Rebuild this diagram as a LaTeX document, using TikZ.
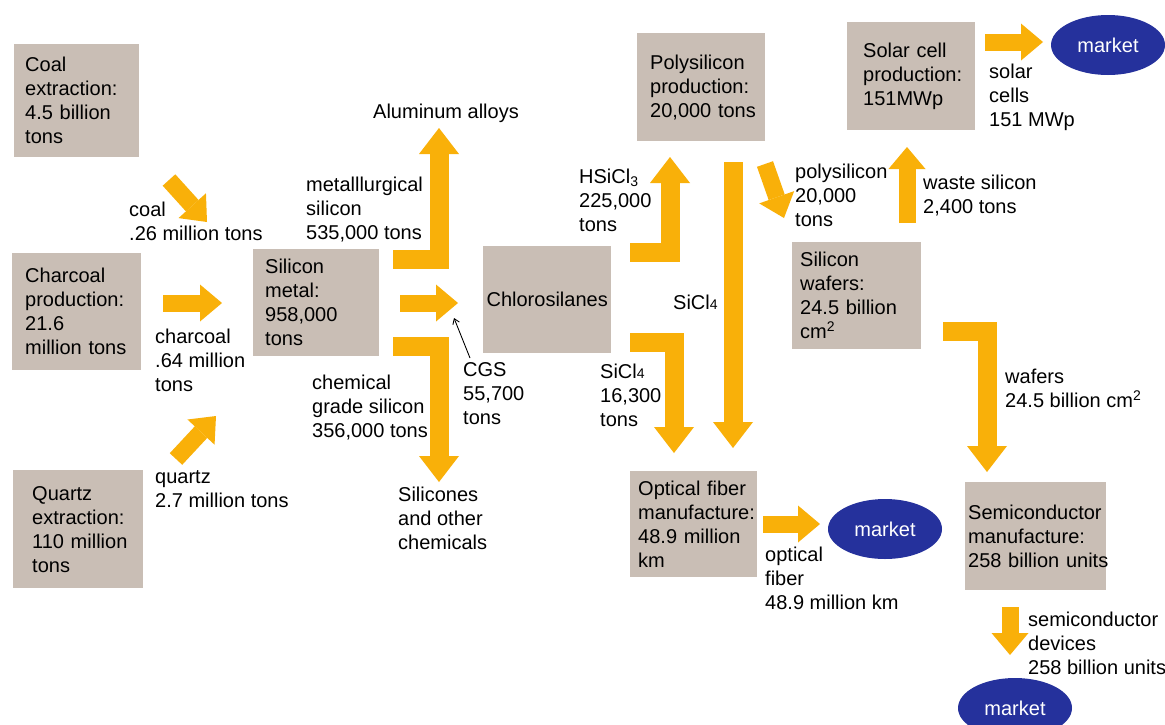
\documentclass[tikz,border=0pt]{standalone}
\usepackage{fontspec}
\setmainfont{Liberation Sans}
\usetikzlibrary{arrows.meta,shapes.geometric}
\definecolor{stagefill}{RGB}{201,190,181}
\definecolor{flowcol}{RGB}{249,176,9}
\definecolor{marketblue}{RGB}{37,49,156}
\tikzset{
  stage/.style={fill=stagefill, inner ysep=0pt, align=left, anchor=north west,
    execute at begin node={\hyphenpenalty=10000\exhyphenpenalty=10000}},
  note/.style={align=left, anchor=north west, inner sep=0pt},
  market/.style={ellipse, fill=marketblue, text=white, minimum width=114pt, minimum height=60pt, inner sep=0pt},
  flow/.style={draw=flowcol, line width=19pt, line join=miter, -{Triangle[length=26pt,width=40pt,line width=0pt]}},
  short flow/.style={flow, line width=17pt, -{Triangle[length=22pt,width=37pt,line width=0pt]}},
  pointer/.style={line width=0.9pt, -{Straight Barb[length=5pt,width=7pt]}}
}
\begin{document}
\begin{tikzpicture}[x=1pt,y=-1pt,font=\fontsize{20}{24}\selectfont]
			%%Frame
			\fill[white] (0,0) rectangle (1165,724);
			\clip (0,0) rectangle (1165,724);

			%%Stages
			\node[stage, inner xsep=11pt, text width=103pt, minimum height=113pt] (coal) at (14,44) {Coal\\extraction:\\4.5~billion\\tons};
			\node[stage, inner xsep=13pt, text width=103pt, minimum height=117pt] (charcoal) at (12,253) {Charcoal\\production:\\21.6\\million~tons};
			\node[stage, inner xsep=19pt, text width=92pt, minimum height=118pt] (quartz) at (13,470) {Quartz\\extraction:\\110~million\\tons};
			\node[stage, inner xsep=12pt, text width=102pt, minimum height=107pt] (metal) at (253,249) {Silicon\\metal:\\958,000\\tons};
			\node[stage, align=center, inner xsep=0pt, text width=128pt, minimum height=107pt] (chloro) at (483,246) {Chlorosilanes};
			\node[stage, inner xsep=13pt, text width=102pt, minimum height=108pt] (poly) at (637,33) {Polysilicon\\production:\\20,000~tons};
			\node[stage, inner xsep=16pt, text width=96pt, minimum height=108pt] (solar) at (847,22) {Solar~cell\\production:\\151MWp};
			\node[stage, inner xsep=8pt, text width=113pt, minimum height=107pt] (wafers) at (792,242) {Silicon\\wafers:\\24.5~billion\\cm\textsuperscript{2}};
			\node[stage, inner xsep=8pt, text width=111pt, minimum height=106pt] (fiber) at (630,471) {Optical~fiber\\manufacture:\\48.9~million\\km};
			\node[stage, inner xsep=3pt, text width=135pt, minimum height=108pt] (semi) at (965,482) {Semiconductor\\manufacture:\\258~billion~units};

			%%Markets
			\node[market] (solar market) at (1108,45) {market};
			\node[market] (fiber market) at (885,529) {market};
			\node[market] (device market) at (1015,708) {market};

			%%Arrow ends
			\coordinate (coal out) at (169,180);
			\coordinate (coal in) at (207,222);
			\coordinate (char out) at (163,303);
			\coordinate (char in) at (222,303);
			\coordinate (qtz out) at (176,459);
			\coordinate (qtz in) at (216,416);
			\coordinate (mg out) at (393,259);
			\coordinate (alu in) at (439,128);
			\coordinate (cgs out) at (400,303);
			\coordinate (cgs in) at (458,303);
			\coordinate (chem out) at (393,346);
			\coordinate (chem in) at (439,482);
			\coordinate (hsi out) at (630,252);
			\coordinate (hsi in) at (670,157);
			\coordinate (sicl out) at (733,162);
			\coordinate (sicl in) at (733,448);
			\coordinate (sicl2 out) at (630,342);
			\coordinate (sicl2 in) at (674,453);
			\coordinate (poly out) at (765,164);
			\coordinate (poly in) at (784,218);
			\coordinate (waste out) at (907,223);
			\coordinate (waste in) at (907,147);
			\coordinate (solar out) at (985,42);
			\coordinate (solar in) at (1043,42);
			\coordinate (wafer out) at (943,331);
			\coordinate (wafer in) at (987,472);
			\coordinate (fiber out) at (763,524);
			\coordinate (fiber in) at (820,524);
			\coordinate (semi out) at (1010,607);
			\coordinate (semi in) at (1010,655);
			\coordinate (cgs tip) at (454,318);

			%%Flows
			\draw[short flow] (coal out) -- (coal in);
			\draw[short flow] (char out) -- (char in);
			\draw[short flow] (qtz out) -- (qtz in);
			\draw[flow] (mg out) -| (alu in);
			\draw[short flow] (cgs out) -- (cgs in);
			\draw[flow] (chem out) -| (chem in);
			\draw[flow] (hsi out) -| (hsi in);
			\draw[flow] (sicl out) -- (sicl in);
			\draw[flow] (sicl2 out) -| (sicl2 in);
			\draw[short flow] (poly out) -- (poly in);
			\draw[short flow] (waste out) -- (waste in);
			\draw[short flow] (solar out) -- (solar in);
			\draw[flow] (wafer out) -| (wafer in);
			\draw[short flow] (fiber out) -- (fiber in);
			\draw[short flow] (semi out) -- (semi in);

			%%Label
			\node[note] (coal flow) at (129,202) {coal\\.26~million~tons};
			\node[note] (char flow) at (155,329) {charcoal\\.64~million\\tons};
			\node[note] (qtz flow) at (155,470) {quartz\\2.7~million~tons};
			\node[note] (alu) at (373,104) {Aluminum~alloys};
			\node[note] (mg flow) at (306,177) {metalllurgical\\silicon\\535,000~tons};
			\node[note] (chem flow) at (312,375) {chemical\\grade~silicon\\356,000~tons};
			\node[note] (silicones) at (398,487) {Silicones\\and~other\\chemicals};
			\node[note] (cgs) at (463,362) {CGS\\55,700\\tons};
			\node[note] (hsi flow) at (579,169) {HSiCl\textsubscript{3}\\225,000\\tons};
			\node[note] (sicl flow) at (673,295) {SiCl{\fontsize{14}{14}\selectfont 4}};
			\node[note] (sicl2 flow) at (600,364) {SiCl{\fontsize{14}{14}\selectfont 4}\\16,300\\tons};
			\node[note] (poly flow) at (795,164) {polysilicon\\20,000\\tons};
			\node[note] (waste flow) at (923,175) {waste~silicon\\2,400~tons};
			\node[note] (solar flow) at (989,64) {solar\\cells\\151~MWp};
			\node[note] (wafer flow) at (1005,369) {wafers\\24.5~billion~cm\textsuperscript{2}};
			\node[note] (fiber flow) at (765,547) {optical\\fiber\\48.9~million~km};
			\node[note] (semi flow) at (1028,612) {semiconductor\\devices\\258~billion~units};

			\draw[pointer] ([xshift=7pt,yshift=4pt]cgs.north west) -- (cgs tip);
\end{tikzpicture}
\end{document}
